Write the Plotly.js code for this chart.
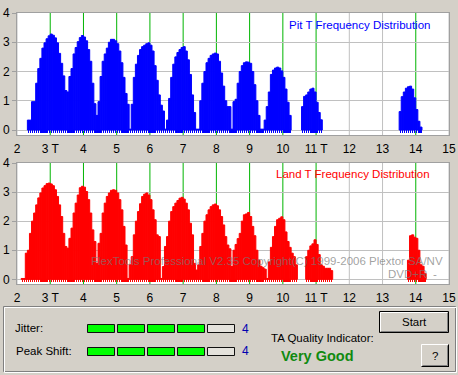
<!DOCTYPE html>
<html>
<head>
<meta charset="utf-8">
<script src="https://cdn.plot.ly/plotly-3.0.1.min.js"></script>
<style>html,body{margin:0;padding:0;background:#d4d0c8;}#chart{width:458px;height:375px;}</style>
</head>
<body>
<div id="chart"></div>
<script>
// ---- data ----
const T_VALUES = [2,3,4,5,6,7,8,9,10,11,12,13,14,15];
const T_LABELS = ['2','3 T','4','5','6','7','8','9','10','11 T','12','13','14','15'];
const MARKED_T = [3,4,5,6,7,8,9,10,11,14];
const BIN_START = 2.15625;   // centre of first bin (T)
const BIN_WIDTH = 0.0625;    // bin width (T)
const pitValues = [
  null,null,null,0.34,0.34,0.97,0.97,1.6,2.1,2.45,2.8,2.98,3.12,3.22,3.28,3.24,
  3.15,2.98,2.62,2.28,1.85,1.35,1.3,1.83,2.1,2.6,2.82,3.02,3.16,3.23,3.18,3.05,
  2.75,2.35,1.6,0.9,0.5,0.97,1.83,2.35,2.6,2.8,3.0,3.1,3.1,3.05,2.95,2.7,
  2.3,1.8,1.25,0.88,0.03,0.88,1.8,2.25,2.55,2.75,2.85,2.9,2.95,2.98,2.9,2.7,
  2.2,1.7,1.2,0.85,0.65,0.03,0.34,1.08,1.8,2.25,2.5,2.65,2.75,2.82,2.85,2.7,
  2.4,1.9,1.2,0.6,0.03,0.03,1.0,1.6,2.0,2.3,2.45,2.55,2.6,2.63,2.6,2.35,
  1.95,1.5,1.0,0.8,0.8,0.03,0.97,1.05,1.6,2.0,2.2,2.3,2.33,2.32,2.28,2.0,
  1.55,1.0,0.5,0.03,0.03,0.34,0.8,1.3,1.9,2.05,2.12,2.15,2.12,2.02,1.8,1.4,
  0.95,0.5,null,null,null,null,null,0.8,1.15,1.2,1.3,1.4,1.43,1.3,0.95,0.6,
  0.35,null,null,null,null,null,null,null,null,null,null,null,null,null,null,null,
  null,null,null,null,null,null,null,null,null,null,null,null,null,null,null,null,
  null,null,null,null,null,null,0.63,1.14,1.3,1.43,1.48,1.5,1.4,1.1,0.7,0.3,
  0.1,null,null,null,null,null,null,null
];
const landValues = [
  0.03,0.03,0.9,1.0,1.58,2.0,2.28,2.56,2.8,2.97,3.14,3.22,3.29,3.31,3.28,3.22,
  3.08,2.85,2.56,2.16,1.58,1.13,1.07,1.41,1.76,2.28,2.62,2.9,3.15,3.2,3.17,3.02,
  2.74,2.28,1.7,1.3,0.55,1.24,1.58,2.28,2.62,2.85,2.97,3.06,3.08,3.06,2.97,2.74,
  2.39,1.82,1.18,0.03,0.5,0.78,1.53,2.0,2.33,2.6,2.85,2.93,2.97,2.9,2.74,2.39,
  2.05,1.53,1.47,0.03,0.44,1.13,1.47,2.0,2.33,2.5,2.62,2.71,2.79,2.82,2.76,2.62,
  2.39,1.93,1.53,0.55,0.32,0.5,1.13,1.58,2.0,2.22,2.39,2.5,2.56,2.59,2.53,2.39,
  2.16,1.87,1.47,1.18,1.05,0.44,1.0,1.2,1.4,1.58,2.0,2.22,2.25,2.3,2.16,1.82,
  1.5,1.0,0.66,0.45,0.4,0.35,0.03,0.6,1.1,1.47,1.82,2.05,2.1,2.15,2.05,1.63,
  1.3,1.1,0.9,0.78,0.5,null,null,null,null,0.78,1.0,1.15,1.22,1.36,1.2,0.85,
  0.5,0.45,0.38,0.38,0.38,0.3,null,null,null,null,null,null,null,null,null,null,
  null,null,null,null,null,null,null,null,null,null,null,null,null,null,null,null,
  null,null,null,null,null,null,null,null,null,null,0.66,1.5,1.53,1.45,1.41,1.0,
  0.5,0.45,0.2,null,null,null,null,null
];
const JITTER_LEVEL = 4;
const PEAK_SHIFT_LEVEL = 4;
const LEVEL_MAX = 5;
const QUALITY_TEXT = 'Very Good';
const PIT_TITLE = 'Pit T Frequency Distribution';
const LAND_TITLE = 'Land T Frequency Distribution';
const WATERMARK = 'FlexTools Professional V2.35 Copyright(C) 1999-2006 Plextor SA/NV';
const MEDIA = 'DVD+R';

// ---- helpers ----
const W = 458, H = 375;
const PX = p => p / W;
const PY = p => 1 - p / H;
const FONT = 'Liberation Sans, Arial, sans-serif';
const xs = pitValues.map((_, i) => BIN_START + i * BIN_WIDTH);

function barTraces(values, color, xa, ya) {
  return [
    {type:'bar', x: xs, y: values, xaxis: xa, yaxis: ya, width: BIN_WIDTH,
     marker:{color: color, line:{width:1, color: color}}, hoverinfo:'skip'},
    {type:'bar', x: xs, y: values.map(v => v == null ? null : 0.1), base: -0.1,
     xaxis: xa, yaxis: ya, width: BIN_WIDTH * 0.6,
     marker:{color: color, line:{width:0}}, hoverinfo:'skip'}
  ];
}

const data = [
  ...barTraces(pitValues, '#0000ff', 'x', 'y'),
  ...barTraces(landValues, '#ff0000', 'x2', 'y2')
];

function xAxis(anchor) {
  return {domain:[PX(17), PX(449)], range:[2,15], anchor: anchor,
    tickmode:'array', tickvals: T_VALUES, ticktext: T_LABELS,
    showgrid:false, zeroline:false,
    showline:true, linecolor:'#a0a0a0', mirror:true,
    ticks:'outside', ticklen:3, tickcolor:'rgba(0,0,0,0)',
    tickfont:{family:FONT, size:12, color:'#000'}, fixedrange:true};
}
function yAxis(anchor, dom, lo) {
  return {domain: dom, range:[lo,4], anchor: anchor,
    tickmode:'array', tickvals:[0,1,2,3,4],
    showgrid:true, gridcolor:'#c0c0c0', gridwidth:1, zeroline:false,
    showline:true, linecolor:'#a0a0a0', mirror:true,
    ticks:'outside', ticklen:4, tickcolor:'#a0a0a0', tickwidth:1,
    tickfont:{family:FONT, size:12, color:'#000'}, fixedrange:true};
}

const shapes = [];
// vertical grid lines (grey) and marked T lines (green), under the bars
T_VALUES.forEach(t => {
  const marked = MARKED_T.indexOf(t) >= 0;
  [['x','y domain'],['x2','y2 domain']].forEach(([xr, yr]) => {
    shapes.push({type:'line', xref: xr, yref: yr, x0: t, x1: t, y0: 0, y1: 1,
      line:{color: marked ? '#00b400' : '#c0c0c0', width:1}, layer:'below'});
  });
});
function prect(x0,y0,x1,y1,fill,line,lw){
  shapes.push({type:'rect', xref:'paper', yref:'paper', x0:PX(x0), x1:PX(x1), y0:PY(y1), y1:PY(y0),
    fillcolor: fill || 'rgba(0,0,0,0)', line:{color: line || 'rgba(0,0,0,0)', width: lw == null ? 1 : lw}, layer:'above'});
}
function pline(x0,y0,x1,y1,color){
  shapes.push({type:'line', xref:'paper', yref:'paper', x0:PX(x0), x1:PX(x1), y0:PY(y0), y1:PY(y1),
    line:{color: color, width:1}, layer:'above'});
}
// group box (etched)
prect(3.5,306.5,455.5,371.5,null,'#808080',1);
prect(4.5,307.5,456.5,372.5,null,'#ffffff',1);
// level boxes
const BOX_X = [87, 117, 147, 177, 207];
function levelRow(level, y0, y1){
  for (let i = 0; i < LEVEL_MAX; i++) {
    prect(BOX_X[i]+0.5, y0+0.5, BOX_X[i]+27.5, y1+0.5, i < level ? '#00ff00' : '#e4e2dc', '#101010', 1);
  }
}
levelRow(JITTER_LEVEL, 324, 332);
levelRow(PEAK_SHIFT_LEVEL, 347, 355);
// Start button
prect(379.5,311.5,448.5,332.5,'#d4d0c8','#000000',1);
pline(380.5,312.5,447,312.5,'#ffffff'); pline(380.5,312.5,380.5,331,'#ffffff');
pline(381,331.5,447.5,331.5,'#808080'); pline(447.5,313,447.5,331.5,'#808080');
// ? button
prect(421,344,449,367,'#d4d0c8',null,0);
pline(421.5,344.5,448,344.5,'#ffffff'); pline(421.5,344.5,421.5,366.5,'#ffffff');
pline(421.5,366.5,449,366.5,'#000000'); pline(448.5,344.5,448.5,366.5,'#000000');
pline(422.5,365.5,447.5,365.5,'#808080'); pline(447.5,345.5,447.5,365.5,'#808080');

const annotations = [];
function ann(text, x, y, anchor, color, size){
  annotations.push({text:text, xref:'paper', yref:'paper', x:PX(x), y:PY(y),
    xanchor:anchor, yanchor:'middle', showarrow:false,
    font:{family:FONT, size:size, color:color}});
}
ann(PIT_TITLE, 432, 25, 'right', '#0000ff', 11.5);
ann(LAND_TITLE, 432, 174, 'right', '#ff0000', 11.5);
ann(WATERMARK, 445, 261, 'right', 'rgba(120,120,120,0.7)', 11.5);
ann(MEDIA, 386, 274, 'left', 'rgba(120,120,120,0.7)', 11.5);
ann('-', 435, 274, 'center', 'rgba(120,120,120,0.7)', 11.5);
ann('Jitter:', 13, 328, 'left', '#000', 11.5);
ann('Peak Shift:', 14, 351, 'left', '#000', 11.5);
ann(String(JITTER_LEVEL), 245.5, 328.5, 'center', '#0000b0', 12);
ann(String(PEAK_SHIFT_LEVEL), 245.5, 351, 'center', '#0000b0', 12);
ann('TA Quality Indicator:', 269, 338, 'left', '#000', 11.5);
ann('<b>' + QUALITY_TEXT + '</b>', 317.5, 356, 'center', '#108a10', 14.5);
ann('Start', 414, 321.5, 'center', '#000', 11.5);
ann('?', 435, 355.5, 'center', '#000', 11.5);

const layout = {
  width: W, height: H, margin:{l:0,r:0,t:0,b:0,pad:0},
  paper_bgcolor:'#d4d0c8', plot_bgcolor:'#ffffff', showlegend:false,
  barmode:'overlay', bargap:0,
  xaxis: xAxis('y'), yaxis: yAxis('x', [PY(135), PY(13)], -0.17),
  xaxis2: xAxis('y2'), yaxis2: yAxis('x2', [PY(284), PY(163)], -0.16),
  shapes: shapes, annotations: annotations,
  font:{family:FONT}
};
Plotly.newPlot('chart', data, layout, {staticPlot:true, displayModeBar:false});
</script>
</body>
</html>
